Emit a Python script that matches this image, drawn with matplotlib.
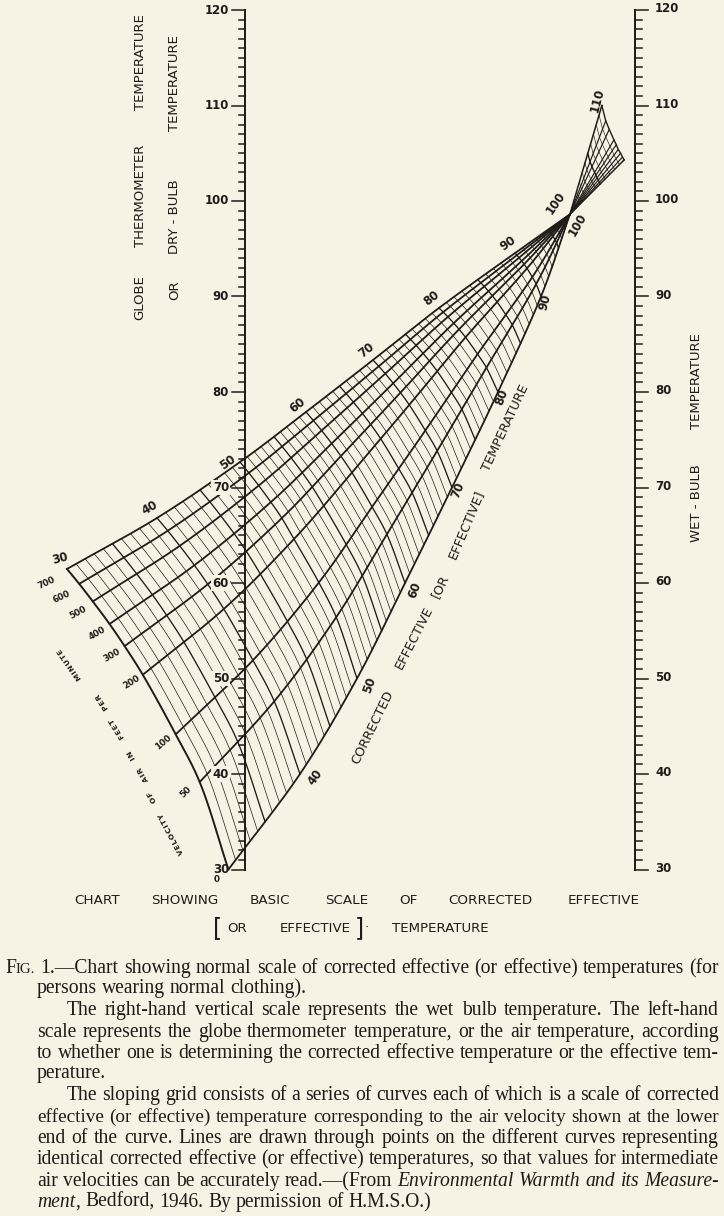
import numpy as np
import matplotlib
matplotlib.use("Agg")
import matplotlib.pyplot as plt
from matplotlib.transforms import IdentityTransform

# ---------------- data ----------------
SCALE_VALUES = list(range(30, 121))
SCALE_LABELS = [30, 40, 50, 60, 70, 80, 90, 100, 110, 120]

VELOCITIES = [700, 600, 500, 400, 300, 200, 100, 50, 0]
VEL_LABELS = ["700", "600", "500", "400", "300", "200", "100", "50", "0"]

# node temperatures along every velocity curve (corrected effective temperature, deg F)
ET_NODES = [30, 40, 50, 60, 70, 80, 90]
CONV_ET, CONV_T, CONV_H = 98.6, 0.833, 98.6     # common point of all velocity curves
FAN_ET = 110

# Nomogram coordinates of the nodes: t = 0 on the left scale, 1 on the right scale;
# h = height read on the temperature scales (deg F).
V700_T = [-0.4564, -0.2256, -0.0128, 0.1564, 0.3282, 0.4974, 0.6923]
V700_H = [61.47, 66.81, 72.67, 77.91, 83.35, 88.80, 94.55]
V600_T = [-0.4251, -0.1981, 0.0099, 0.1753, 0.3430, 0.5082, 0.6972]
V600_H = [59.91, 65.47, 71.53, 77.01, 82.69, 88.37, 94.33]
V500_T = [-0.3903, -0.1674, 0.0352, 0.1964, 0.3596, 0.5203, 0.7027]
V500_H = [58.07, 63.89, 70.20, 75.97, 81.92, 87.87, 94.06]
V400_T = [-0.3474, -0.1297, 0.0663, 0.2223, 0.3800, 0.5352, 0.7095]
V400_H = [55.71, 61.86, 68.47, 74.61, 80.91, 87.21, 93.72]
V300_T = [-0.3087, -0.0955, 0.0944, 0.2458, 0.3986, 0.5488, 0.7156]
V300_H = [53.39, 59.87, 66.79, 73.29, 79.93, 86.57, 93.38]
V200_T = [-0.2621, -0.0543, 0.1256, 0.2743, 0.4212, 0.5655, 0.7231]
V200_H = [50.39, 57.28, 64.60, 71.56, 78.65, 85.73, 92.95]
V100_T = [-0.1777, 0.0204, 0.1894, 0.3259, 0.4624, 0.5962, 0.7367]
V100_H = [44.15, 51.91, 60.05, 67.97, 75.97, 83.97, 92.03]
V50_T = [-0.1162, 0.0750, 0.2339, 0.3638, 0.4927, 0.6190, 0.7466]
V50_H = [39.16, 47.61, 56.42, 65.10, 73.83, 82.55, 91.30]
V0_T = [-0.0426, 0.1410, 0.2872, 0.4103, 0.5308, 0.6487, 0.7590]
V0_H = [30, 40, 50, 60, 70, 80, 90]

# ET = 110 edge of the upper fan (one end per velocity)
FAN_T = [0.972, 0.968, 0.963, 0.957, 0.952, 0.946, 0.934, 0.925, 0.915]
FAN_H = [104.3, 104.6, 105.0, 105.4, 105.9, 106.4, 107.5, 108.4, 110.0]

CURVES_T = [V700_T, V600_T, V500_T, V400_T, V300_T, V200_T, V100_T, V50_T, V0_T]
CURVES_H = [V700_H, V600_H, V500_H, V400_H, V300_H, V200_H, V100_H, V50_H, V0_H]

# ---------------- layout ----------------
W, H = 724, 1216
BG = "#f7f3e4"
INK = "#1e1c19"
XL, XR = 245.0, 635.0
Y120, PPD = 10.0, 9.55
TS = "\u200a"  # hair space used as letter tracking


def to_t(x):
    return (x - XL) / (XR - XL)


def to_h(y):
    return 120 - (y - Y120) / PPD


SX, SY = (XR - XL), PPD  # isotropic pixel-equivalent factors (for smooth splines)

fig = plt.figure(figsize=(W / 100, H / 100), dpi=100, facecolor=BG)
ax = fig.add_axes([0, 0, 1, 1])
ax.set_facecolor(BG)
ax.set_xlim(to_t(0), to_t(W))
ax.set_ylim(to_h(H), to_h(0))
ax.axis("off")


def iso(t, h):
    return np.array([np.asarray(t, float) * SX, np.asarray(h, float) * SY]).T


def uniso(P):
    P = np.asarray(P)
    return P[..., 0] / SX, P[..., 1] / SY


def cr_point(P, s):
    P = np.asarray(P, float)
    P = np.vstack([2 * P[0] - P[1], P, 2 * P[-1] - P[-2]])
    n = len(P) - 3
    s = np.clip(s, 0, n)
    i = np.minimum(np.floor(s).astype(int), n - 1)
    u = (s - i)[..., None]
    p0, p1, p2, p3 = P[i], P[i + 1], P[i + 2], P[i + 3]
    return 0.5 * (2 * p1 + (p2 - p0) * u + (2 * p0 - 5 * p1 + 4 * p2 - p3) * u ** 2
                  + (-p0 + 3 * p1 - 3 * p2 + p3) * u ** 3)


def cr_centripetal(P, n=14, alpha=0.5):
    P = np.asarray(P, float)
    P = np.vstack([2 * P[0] - P[1], P, 2 * P[-1] - P[-2]])
    out = []
    for k in range(1, len(P) - 2):
        p0, p1, p2, p3 = P[k - 1], P[k], P[k + 1], P[k + 2]
        t0 = 0.0
        t1 = t0 + max(np.linalg.norm(p1 - p0), 1e-6) ** alpha
        t2 = t1 + max(np.linalg.norm(p2 - p1), 1e-6) ** alpha
        t3 = t2 + max(np.linalg.norm(p3 - p2), 1e-6) ** alpha
        t = np.linspace(t1, t2, n, endpoint=False)[:, None]
        a1 = (t1 - t) / (t1 - t0) * p0 + (t - t0) / (t1 - t0) * p1
        a2 = (t2 - t) / (t2 - t1) * p1 + (t - t1) / (t2 - t1) * p2
        a3 = (t3 - t) / (t3 - t2) * p2 + (t - t2) / (t3 - t2) * p3
        b1 = (t2 - t) / (t2 - t0) * a1 + (t - t0) / (t2 - t0) * a2
        b2 = (t3 - t) / (t3 - t1) * a2 + (t - t1) / (t3 - t1) * a3
        out.append((t2 - t) / (t2 - t1) * b1 + (t - t1) / (t2 - t1) * b2)
    out.append(P[-2][None, :])
    return np.vstack(out)


conv = iso(CONV_T, CONV_H)
nodes = [np.vstack([iso(ct, ch), conv]) for ct, ch in zip(CURVES_T, CURVES_H)]
node_et = ET_NODES + [CONV_ET]
node_idx = np.arange(len(node_et))

# velocity curves (main region)
for P in nodes:
    s = np.linspace(0, len(node_et) - 1, 500)
    t, h = uniso(cr_point(P, s))
    ax.plot(t, h, color=INK, lw=1.3, solid_capstyle="round", zorder=3)

# lines of equal corrected effective temperature, every degree
for e in range(ET_NODES[0], 99):
    s = np.interp(e, node_et, node_idx)
    pts = np.array([cr_point(P, np.array([s]))[0] for P in nodes])
    t, h = uniso(cr_centripetal(pts))
    lw = 1.4 if e == ET_NODES[0] else (0.95 if e % 5 == 0 else 0.5)
    ax.plot(t, h, color=INK, lw=lw, zorder=2)

# upper fan beyond the common point
ends = iso(FAN_T, FAN_H)
for v in range(len(VELOCITIES)):
    t, h = uniso(np.vstack([conv, ends[v]]))
    lw = 1.1 if v in (0, len(VELOCITIES) - 1) else 0.85
    ax.plot(t, h, color=INK, lw=lw, zorder=3)
for e in range(99, FAN_ET + 1):
    f = (e - CONV_ET) / (FAN_ET - CONV_ET)
    t, h = uniso(conv + f * (ends - conv))
    lw = 1.0 if e % 5 == 0 else 0.45
    ax.plot(t, h, color=INK, lw=lw, zorder=2)

# ---------------- scales ----------------
MAJ, MIN_L, MIN_R = 13 / SX, 6 / SX, 7 / SX
ax.plot([0, 0], [SCALE_VALUES[0], SCALE_VALUES[-1]], color=INK, lw=1.4, zorder=5)
ax.plot([1, 1], [SCALE_VALUES[0], SCALE_VALUES[-1]], color=INK, lw=1.4, zorder=5)
for v in SCALE_VALUES:
    L = MAJ if v % 10 == 0 else MIN_L
    ax.plot([-L, 0], [v, v], color=INK, lw=1.1, zorder=5)
    L = MAJ if v % 10 == 0 else MIN_R
    ax.plot([1, 1 + L], [v, v], color=INK, lw=1.1, zorder=5)

num_font = dict(family="DejaVu Sans", fontweight="bold", color=INK)
mask = dict(boxstyle="square,pad=0.12", fc=BG, ec="none")
for v in SCALE_LABELS:
    kw = dict(bbox=mask) if 40 <= v <= 70 else {}
    ax.text(to_t(229), v, str(v), ha="right", va="center", fontsize=8.5, zorder=6, **num_font, **kw)
    ax.text(to_t(655), v + 0.15, str(v), ha="left", va="center", fontsize=8.5, zorder=6, **num_font)


def label(x, y, s, rot=0, size=8.5, bold=True, **kw):
    ax.text(to_t(x), to_h(y), s, rotation=rot, rotation_mode="anchor", ha="center", va="center",
            fontsize=size, fontweight="bold" if bold else "normal", family="DejaVu Sans",
            color=INK, zorder=6, **kw)


top_lab = [("30", 60, 559, 15), ("40", 150, 508, 30), ("50", 228, 462, 35), ("60", 298, 405, 38),
           ("70", 366, 350, 38), ("80", 432, 298, 38), ("90", 508, 243, 35), ("100", 556, 203, 55)]
for s, x, y, r in top_lab:
    label(x, y, s, r)
bot_lab = [("40", 315, 777, 55), ("50", 370, 685, 70), ("60", 415, 590, 70), ("70", 458, 490, 68),
           ("80", 502, 397, 70), ("90", 545, 302, 75), ("100", 578, 225, 60), ("110", 597, 100, 75)]
for s, x, y, r in bot_lab:
    label(x, y, s, r)

vel_pos = [(47, 583, 25), (62, 597, 25), (78, 613, 28), (97, 633, 30), (112, 655, 30),
           (132, 682, 32), (163, 742, 40), (186, 792, 45), (217, 879, 0)]
for s, (x, y, r) in zip(VEL_LABELS, vel_pos):
    label(x, y, s, r, size=6.3, bold=True)

vel_title = [("VELOCITY", 171, 834, 118), ("OF", 152, 797, 119), ("AIR", 143, 774, 120),
             ("IN", 132, 755, 121), ("FEET", 117, 728, 122), ("PER", 102, 702, 123),
             ("MINUTE", 70, 664, 125)]
for s, x, y, r in vel_title:
    label(x, y, TS.join(s), r, size=5.4, bold=True)

cet_title = [("CORRECTED", 373, 727, 64), ("EFFECTIVE", 414, 638, 63), ("[OR", 440, 586, 65),
             ("EFFECTIVE]", 466, 524, 67), ("TEMPERATURE", 506, 428, 65)]
for s, x, y, r in cet_title:
    label(x, y, s, r, size=9.3, bold=False)

for s, x, y in [("GLOBE", 140, 298), ("THERMOMETER", 140, 196), ("TEMPERATURE", 140, 62),
                ("OR", 175, 290), ("DRY - BULB", 175, 217), ("TEMPERATURE", 175, 83),
                ("WET - BULB", 696, 503), ("TEMPERATURE", 696, 381)]:
    label(x, y, s, 90, size=9.5, bold=False)

# ---------------- bottom title ----------------
for s, x in [("CHART", 97), ("SHOWING", 185), ("BASIC", 270), ("SCALE", 347), ("OF", 408),
             ("CORRECTED", 490), ("EFFECTIVE", 604)]:
    fig.text(x, H - 901, s, transform=IdentityTransform(), ha="center", va="center",
             fontsize=9.7, family="DejaVu Sans", color=INK)
for s, x, fs in [("[", 218, 17), ("OR", 237, 9.6), ("EFFECTIVE", 315, 9.6), ("]", 359, 17),
                 ("·", 367, 9.6), ("TEMPERATURE", 440, 9.6)]:
    fig.text(x, H - 928, s, transform=IdentityTransform(), ha="center", va="center",
             fontsize=fs, family="DejaVu Sans", color=INK)

# ---------------- caption ----------------
CAP = [
    ("F~IG. 1.—Chart showing normal scale of corrected effective (or effective) temperatures (for", 5, True),
    ("persons wearing normal clothing).", 37, False),
    ("The right-hand vertical scale represents the wet bulb temperature.  The left-hand", 67, True),
    ("scale represents the globe thermometer temperature, or the air temperature, according", 37, True),
    ("to whether one is determining the corrected effective temperature or the effective tem-", 37, True),
    ("perature.", 37, False),
    ("The sloping grid consists of a series of curves each of which is a scale of corrected", 67, True),
    ("effective (or effective) temperature corresponding to the air velocity shown at the lower", 37, True),
    ("end of the curve.  Lines are drawn through points on the different curves representing", 37, True),
    ("identical corrected effective (or effective) temperatures, so that values for intermediate", 37, True),
    ("air velocities can be accurately read.—(From *Environmental* *Warmth* *and* *its* *Measure-*", 37, True),
    ("*ment*, Bedford, 1946.  By permission of H.M.S.O.)", 37, False),
]
CAP_Y = [968, 988, 1010, 1032, 1053, 1073, 1095, 1117, 1138, 1159, 1181, 1202]
CAP_RIGHT = 719
renderer = fig.canvas.get_renderer()
CAP_FS = 14.1


def segs_of(word):
    out = []
    italic = False
    parts = word.split("*")
    for k, p in enumerate(parts):
        if k > 0:
            italic = not italic
        if not p:
            continue
        if "~" in p:
            a, b = p.split("~")
            out.append((a, italic, 1.0))
            out.append((b, italic, 0.76))
        else:
            out.append((p, italic, 1.0))
    return out


for (line, x0, just), yc in zip(CAP, CAP_Y):
    words = line.split()
    fs = CAP_FS
    for attempt in range(6):
        items = []
        total = 0.0
        for w in words:
            wi = []
            ww = 0.0
            for txt, it, f in segs_of(w):
                tt = fig.text(0, 0, txt, transform=IdentityTransform(), fontsize=fs * f,
                              family="Liberation Serif", style="italic" if it else "normal",
                              color=INK, va="baseline", ha="left")
                bb = tt.get_window_extent(renderer)
                wi.append((tt, bb.width))
                ww += bb.width
            items.append((wi, ww))
            total += ww
        space = 0.25 * fs * 100 / 72
        natural = total + space * (len(words) - 1)
        if natural > CAP_RIGHT - x0 and attempt < 5:
            for wi, _ in items:
                for tt, _ in wi:
                    tt.remove()
            fs *= (CAP_RIGHT - x0) / natural * 0.995
            continue
        break
    gap = (CAP_RIGHT - x0 - total) / (len(words) - 1) if (just and len(words) > 1) else space
    x = x0
    yb = H - (yc + 5)
    for wi, ww in items:
        xx = x
        for tt, wdt in wi:
            tt.set_position((xx, yb))
            xx += wdt
        x += ww + gap

fig.savefig("out.png", dpi=100, facecolor=BG)
